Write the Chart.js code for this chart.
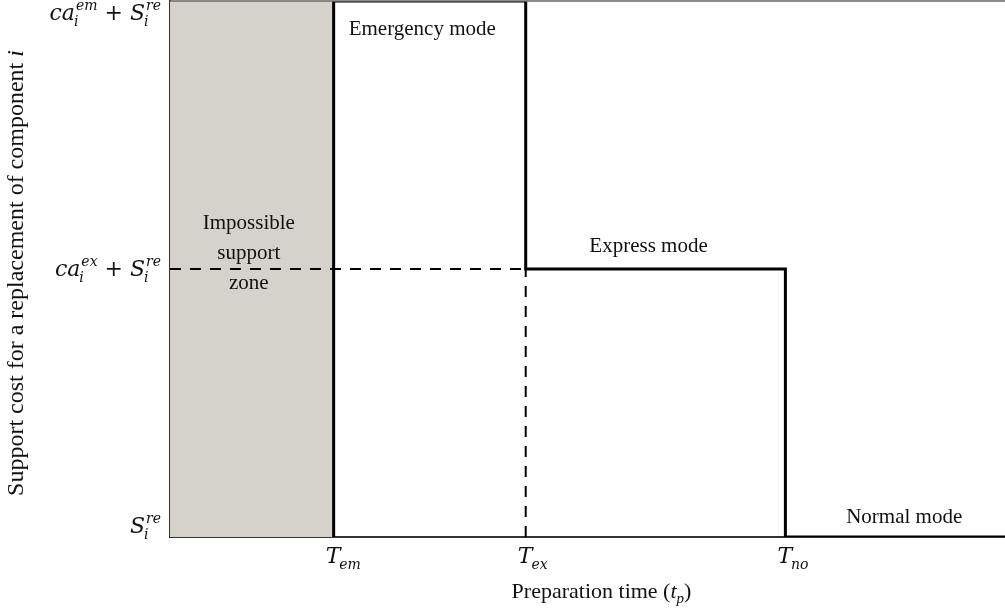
<!DOCTYPE html>
<html>
<head>
<meta charset="utf-8">
<script src="https://cdn.jsdelivr.net/npm/chart.js@4.4.1/dist/chart.umd.min.js"></script>
<style>
  html, body { margin: 0; padding: 0; background: #fff; }
  #wrap { width: 1005px; height: 614px; position: relative; }
</style>
</head>
<body>
<div id="wrap"><canvas id="costChart"></canvas></div>
<script>
'use strict';

// --- DATA ---
const xThresholds = [1.96, 4.26, 7.37];      // T_em, T_ex, T_no
const xMax = 10;
const costLevels = [0, 1, 2];                 // S^re, ca^ex + S^re, ca^em + S^re
const stepX = [1.96, 1.96, 4.26, 4.26, 7.37, 7.37, 10];
const stepY = [0, 2, 2, 1, 1, 0, 0];
const zoneX = [0, 1.96];
const zoneY = [2, 2];
const dashHX = [0, 4.26];
const dashHY = [1, 1];
const dashVX = [4.26, 4.26];
const dashVY = [0, 1];

// tick labels: b = base (italic), sub / sup = scripts, op = upright operator
const xTickLabels = [
    [{ b: 'T', sub: 'em' }],
    [{ b: 'T', sub: 'ex' }],
    [{ b: 'T', sub: 'no' }]
];
const yTickLabels = [
    [{ b: 'S', sub: 'i', sup: 're' }],
    [{ b: 'ca', sub: 'i', sup: 'ex' }, { op: ' + ' }, { b: 'S', sub: 'i', sup: 're' }],
    [{ b: 'ca', sub: 'i', sup: 'em' }, { op: ' + ' }, { b: 'S', sub: 'i', sup: 're' }]
];
const modeLabels = ['Emergency mode', 'Express mode', 'Normal mode'];
const zoneLabel = ['Impossible', 'support', 'zone'];
const xTitle = [{ op: 'Preparation time (' }, { b: 't', sub: 'p' }, { op: ')' }];
const yTitle = [{ op: 'Support cost for a replacement of component ' }, { b: 'i' }];

const pts = (xs, ys) => xs.map((x, i) => ({ x: x, y: ys[i] }));

// --- fonts ---
const MATH = 'italic 22px "DejaVu Serif"';
const MATH_UP = '22px "DejaVu Serif"';
const SCRIPT = 'italic 14px "DejaVu Serif"';
const TEXT = '21px "Liberation Serif"';

function richWidth(ctx, segs, f) {
    let w = 0;
    segs.forEach(s => {
        if (s.op) { ctx.font = f.up; w += ctx.measureText(s.op).width; return; }
        ctx.font = f.it; w += ctx.measureText(s.b).width;
        ctx.font = f.sc;
        const a = s.sub ? ctx.measureText(s.sub).width : 0;
        const b = s.sup ? ctx.measureText(s.sup).width + 1 : 0;
        w += Math.max(a, b);
    });
    return w;
}

function drawRich(ctx, segs, x, y, align, f) {
    const w = richWidth(ctx, segs, f);
    let cx = align === 'right' ? x - w : align === 'center' ? x - w / 2 : x;
    ctx.textAlign = 'left';
    ctx.textBaseline = 'alphabetic';
    segs.forEach(s => {
        if (s.op) {
            ctx.font = f.up; ctx.fillText(s.op, cx, y);
            cx += ctx.measureText(s.op).width;
            return;
        }
        ctx.font = f.it; ctx.fillText(s.b, cx, y);
        cx += ctx.measureText(s.b).width;
        ctx.font = f.sc;
        let sw = 0;
        if (s.sup) { ctx.fillText(s.sup, cx + 1, y - f.supUp); sw = Math.max(sw, ctx.measureText(s.sup).width + 1); }
        if (s.sub) { ctx.fillText(s.sub, cx - f.subBack, y + f.subDown); sw = Math.max(sw, ctx.measureText(s.sub).width - f.subBack); }
        cx += sw;
    });
}

const mathFont = { it: MATH, up: MATH_UP, sc: SCRIPT, supUp: 10, subDown: 6, subBack: 1 };
const xTitleFont = { it: 'italic 22px "Liberation Serif"', up: '22px "Liberation Serif"', sc: 'italic 15px "Liberation Serif"', supUp: 9, subDown: 5, subBack: 0 };
const yTitleFont = { it: 'italic 24px "Liberation Serif"', up: '24px "Liberation Serif"', sc: 'italic 15px "Liberation Serif"', supUp: 9, subDown: 5, subBack: 0 };

// --- custom labels drawn at scale positions ---
const labelPlugin = {
    id: 'labels',
    afterDraw(chart) {
        const { ctx, chartArea: a, scales: { x, y } } = chart;
        ctx.save();
        ctx.fillStyle = '#111';

        // top frame line
        ctx.strokeStyle = '#666';
        ctx.lineWidth = 1.5;
        ctx.beginPath();
        ctx.moveTo(a.left, a.top);
        ctx.lineTo(a.right, a.top);
        ctx.stroke();

        // y tick labels
        costLevels.forEach((v, i) => {
            let base = y.getPixelForValue(v) + 7;
            base = Math.min(Math.max(base, 20), a.bottom - 4);
            drawRich(ctx, yTickLabels[i], a.left - 9, base, 'right', mathFont);
        });

        // x tick labels
        xThresholds.forEach((v, i) => {
            drawRich(ctx, xTickLabels[i], x.getPixelForValue(v) - 8, a.bottom + 26, 'left', mathFont);
        });

        // axis titles
        drawRich(ctx, xTitle, (a.left + a.right) / 2 + 14, a.bottom + 61, 'center', xTitleFont);
        ctx.save();
        ctx.translate(23, (a.top + a.bottom) / 2 + 4);
        ctx.rotate(-Math.PI / 2);
        drawRich(ctx, yTitle, 0, 0, 'center', yTitleFont);
        ctx.restore();

        // mode annotations
        ctx.font = TEXT;
        ctx.textAlign = 'left';
        ctx.fillText(modeLabels[0], x.getPixelForValue(xThresholds[0]) + 15, y.getPixelForValue(costLevels[2]) + 34);
        ctx.textAlign = 'center';
        ctx.fillText(modeLabels[1], (x.getPixelForValue(xThresholds[1]) + x.getPixelForValue(xThresholds[2])) / 2 - 7,
            y.getPixelForValue(costLevels[1]) - 17);
        ctx.fillText(modeLabels[2], (x.getPixelForValue(xThresholds[2]) + a.right) / 2 + 9, a.bottom - 14);

        // impossible zone text
        const zx = (x.getPixelForValue(0) + x.getPixelForValue(xThresholds[0])) / 2 - 3;
        const midY = y.getPixelForValue(costLevels[1]);
        zoneLabel.forEach((t, i) => ctx.fillText(t, zx, midY - 40 + i * 30));
        ctx.restore();
    }
};

const ctx = document.getElementById('costChart').getContext('2d');
new Chart(ctx, {
    type: 'line',
    data: {
        datasets: [
            {
                label: 'zone',
                data: pts(zoneX, zoneY),
                fill: 'origin',
                backgroundColor: '#d5d1cb',
                borderWidth: 0,
                pointRadius: 0,
                order: 4
            },
            {
                label: 'dashH',
                data: pts(dashHX, dashHY),
                borderColor: '#000',
                borderWidth: 2,
                borderDash: [11, 9],
                pointRadius: 0,
                fill: false,
                order: 2
            },
            {
                label: 'dashV',
                data: pts(dashVX, dashVY),
                borderColor: '#000',
                borderWidth: 2,
                borderDash: [11, 9],
                pointRadius: 0,
                fill: false,
                order: 2
            },
            {
                label: 'support cost',
                data: pts(stepX, stepY),
                borderColor: '#000',
                borderWidth: 3,
                pointRadius: 0,
                fill: false,
                tension: 0,
                order: 1
            }
        ]
    },
    options: {
        responsive: true,
        maintainAspectRatio: false,
        animation: false,
        layout: { padding: { left: 170, right: 0, top: 1, bottom: 77 } },
        plugins: { legend: { display: false }, tooltip: { enabled: false } },
        scales: {
            x: {
                type: 'linear', min: 0, max: xMax,
                grid: { display: false, drawTicks: false },
                border: { display: true, color: '#333', width: 2 },
                ticks: { display: false }
            },
            y: {
                type: 'linear', min: 0, max: 2,
                grid: { display: false, drawTicks: false },
                border: { display: true, color: '#333', width: 2 },
                ticks: { display: false }
            }
        }
    },
    plugins: [labelPlugin]
});
</script>
</body>
</html>
